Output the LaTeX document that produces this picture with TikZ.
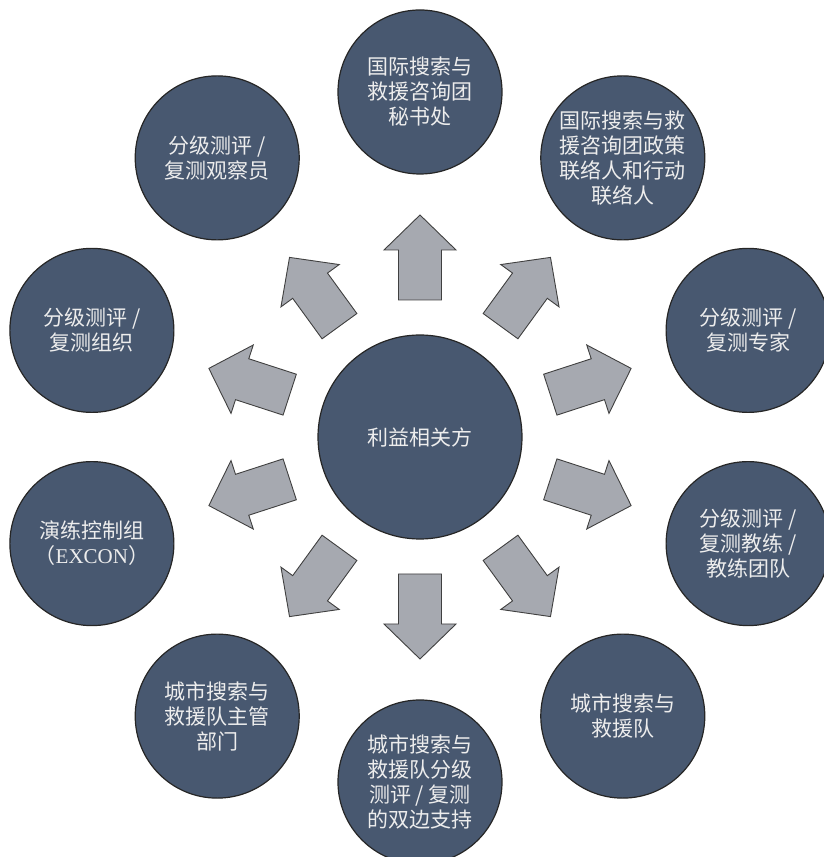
\documentclass[tikz,border=0pt]{standalone}
\usepackage{fontspec}
\setmainfont{Noto Sans CJK SC}
\newfontfamily\latserif{Liberation Serif}
\definecolor{circfill}{HTML}{485870}
\definecolor{arrfill}{HTML}{A6A9B0}
\definecolor{txtcol}{HTML}{EDEDED}
\tikzset{
  hub/.style={circle, draw=black!85, line width=1.2pt, fill=circfill, minimum size=204pt,
    inner sep=0pt, text=txtcol, font=\fontsize{21}{25}\selectfont, align=center},
  spoke/.style={hub, minimum size=164pt},
  blockarrow/.style={draw=black!75, line width=0.9pt, fill=arrfill, line join=miter},
}
\begin{document}
\begin{tikzpicture}[x=1pt,y=1pt]
\useasboundingbox (0,0) rectangle (824,857);
\clip (0,0) rectangle (824,857);
\node[hub] (c) at (420,420) {利益相关方};
\node[spoke] (o1)  at ([shift={(90:345)}]c.center)   {国际搜索与\\救援咨询团\\秘书处};
\node[spoke] (o2)  at ([shift={(54:345)}]c.center)   {国际搜索与救\\援咨询团政策\\联络人和行动\\联络人};
\node[spoke] (o3)  at ([shift={(18:345)}]c.center)   {分级测评 /\\复测专家};
\node[spoke] (o4)  at ([shift={(-18:345)}]c.center)  {分级测评 /\\复测教练 /\\教练团队};
\node[spoke] (o5)  at ([shift={(-54:345)}]c.center)  {城市搜索与\\救援队};
\node[spoke] (o6)  at ([shift={(-90:345)}]c.center)  {城市搜索与\\救援队分级\\测评 / 复测\\的双边支持};
\node[spoke] (o7)  at ([shift={(-126:345)}]c.center) {城市搜索与\\救援队主管\\部门};
\node[spoke] (o8)  at ([shift={(-162:345)}]c.center) {演练控制组\\（{\latserif EXCON}）};
\node[spoke] (o9)  at ([shift={(162:345)}]c.center)  {分级测评 /\\复测组织};
\node[spoke] (o10) at ([shift={(126:345)}]c.center)  {分级测评 /\\复测观察员};
\foreach \a in {90,54,18,-18,-54,-90,-126,-162,162,126}{
  \begin{scope}[shift={(c.center)}, rotate=\a]
    \draw[blockarrow] (137,-21.5) -- (187,-21.5) -- (187,-36) -- (222,0)
      -- (187,36) -- (187,21.5) -- (137,21.5) -- cycle;
  \end{scope}
}
\end{tikzpicture}
\end{document}
